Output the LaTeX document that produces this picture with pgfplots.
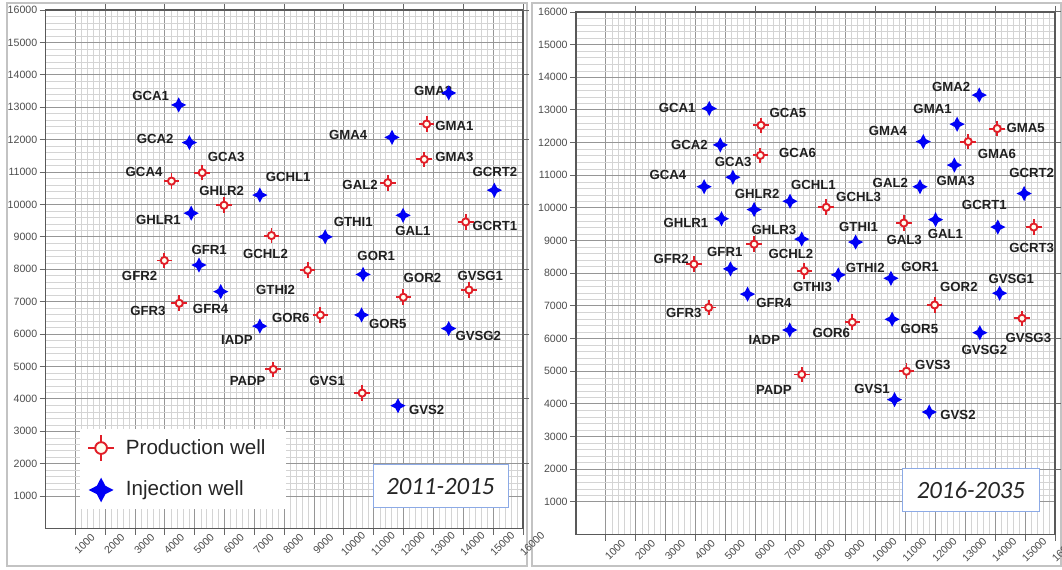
\documentclass[border=0pt]{standalone}
\usepackage{fontspec}
\setmainfont{Liberation Sans}
\newfontfamily\carlito{Carlito}
\usepackage{pgfplots}
\pgfplotsset{compat=1.18}

\definecolor{prodred}{RGB}{225,30,40}
\definecolor{injblue}{RGB}{0,0,245}
\definecolor{majgrid}{RGB}{150,150,150}
\definecolor{mingrid}{RGB}{212,212,212}
\definecolor{boxblue}{RGB}{140,170,230}
\definecolor{framegray}{RGB}{195,195,195}

\pgfdeclareplotmark{prodwell}{%
  \pgfpathcircle{\pgfpointorigin}{0.46\pgfplotmarksize}%
  \pgfusepathqfillstroke
  \pgfpathmoveto{\pgfqpoint{0pt}{0.46\pgfplotmarksize}}%
  \pgfpathlineto{\pgfqpoint{0pt}{\pgfplotmarksize}}%
  \pgfpathmoveto{\pgfqpoint{0pt}{-0.46\pgfplotmarksize}}%
  \pgfpathlineto{\pgfqpoint{0pt}{-\pgfplotmarksize}}%
  \pgfpathmoveto{\pgfqpoint{0.46\pgfplotmarksize}{0pt}}%
  \pgfpathlineto{\pgfqpoint{\pgfplotmarksize}{0pt}}%
  \pgfpathmoveto{\pgfqpoint{-0.46\pgfplotmarksize}{0pt}}%
  \pgfpathlineto{\pgfqpoint{-\pgfplotmarksize}{0pt}}%
  \pgfusepathqstroke
}
\pgfdeclareplotmark{injwell}{%
  \pgfpathmoveto{\pgfqpoint{0pt}{\pgfplotmarksize}}%
  \pgfpathlineto{\pgfqpoint{0.34\pgfplotmarksize}{0.34\pgfplotmarksize}}%
  \pgfpathlineto{\pgfqpoint{\pgfplotmarksize}{0pt}}%
  \pgfpathlineto{\pgfqpoint{0.34\pgfplotmarksize}{-0.34\pgfplotmarksize}}%
  \pgfpathlineto{\pgfqpoint{0pt}{-\pgfplotmarksize}}%
  \pgfpathlineto{\pgfqpoint{-0.34\pgfplotmarksize}{-0.34\pgfplotmarksize}}%
  \pgfpathlineto{\pgfqpoint{-\pgfplotmarksize}{0pt}}%
  \pgfpathlineto{\pgfqpoint{-0.34\pgfplotmarksize}{0.34\pgfplotmarksize}}%
  \pgfpathclose
  \pgfusepathqfill
}

\pgfplotstableread{
x y
5250 10980
4220 10720
5980 9975
7570 9040
3980 8270
8780 7970
12770 12480
12690 11390
11470 10670
14080 9460
14190 7360
11990 7135
4480 6950
9210 6586
7630 4910
10610 4180
}\prodA
\pgfplotstableread{
x y
4460 13070
4820 11910
7180 10290
4880 9730
9370 9000
5140 8130
10640 7840
13510 13440
11610 12070
15040 10440
11980 9665
5870 7310
7180 6245
10590 6590
13510 6170
11810 3790
}\injA
\pgfplotstableread{
x y
6180 12530
6160 11610
8360 10020
5950 8890
3940 8277
7630 8070
14070 12430
13100 12030
10950 9538
15290 9415
11980 7030
4430 6950
9230 6500
14900 6620
11040 5000
7540 4900
}\prodB
\pgfplotstableread{
x y
4450 13046
4820 11930
5240 10940
4280 10650
5950 9950
7150 10205
4860 9670
7540 9046
9340 8954
5160 8133
8760 7950
10520 7846
13470 13456
12730 12564
11600 12030
12640 11313
11490 10650
14970 10441
12010 9641
14090 9415
14150 7390
5730 7360
7140 6262
10560 6590
13490 6180
10640 4130
11800 3750
}\injB

\tikzset{
  wlab/.style={font=\fontsize{6.6}{7}\selectfont\bfseries, text=black!88, inner sep=0pt},
}
\pgfplotsset{
  panel/.style={
    scale only axis, anchor=south west,
    xmin=0, xmax=16000, ymin=0, ymax=16000,
    xtick={1000,2000,...,16000}, ytick={1000,2000,...,16000},
    minor tick num=4,
    grid=both,
    major grid style={majgrid, line width=0.5pt},
    minor grid style={mingrid, line width=0.25pt},
    axis line style={black!65, line width=0.7pt},
    tick align=outside, tick pos=left,
    major tick length=3pt, minor tick length=0pt,
    major tick style={black!60, line width=0.5pt},
    minor tick style={draw=none},
    scaled ticks=false,
    /pgf/number format/assume math mode=true,
    /pgf/number format/set thousands separator={},
    xticklabel style={rotate=45, anchor=center, yshift=-6.5pt, font=\fontsize{5.3}{6}\selectfont, text=black!70},
    yticklabel style={font=\fontsize{5.3}{6}\selectfont, text=black!70, inner sep=1pt},
    clip=false,
  },
  toptick/.style={
    scale only axis, anchor=south west,
    xmin=0, xmax=16000, ymin=0, ymax=16000,
    axis x line*=top, axis y line*=right,
    xtick={2000,4000,...,16000}, ytick={2000,4000,...,16000},
    xticklabels={}, yticklabels={},
    tick align=outside, major tick length=3pt,
    major tick style={black!60, line width=0.5pt},
    axis line style={draw=none},
  },
  prodstyle/.style={only marks, mark=prodwell, mark size=3.9pt, mark options={draw=prodred, fill=yellow!6, line width=0.95pt}},
  injstyle/.style={only marks, mark=injwell, mark size=3.8pt, mark options={fill=injblue, draw=none}},
  prodlegend/.style={legend image code/.code={\draw[prodred, fill=yellow!6, line width=1.1pt] plot[only marks, mark=prodwell, mark size=6.4pt] coordinates {(7pt,0pt)};}},
  injlegend/.style={legend image code/.code={\fill[injblue] plot[only marks, mark=injwell, mark size=6.2pt] coordinates {(7pt,0pt)};}},
}
\newcommand{\lab}[3]{\node[wlab] at (axis cs:#1,#2) {#3};}

\begin{document}
\begin{tikzpicture}
\useasboundingbox (0,0) rectangle (531pt,284.5pt);
\draw[framegray, line width=0.6pt] (3.5pt,1.5pt) rectangle (263.5pt,283pt);
\draw[framegray, line width=0.6pt] (266pt,1.5pt) rectangle (530.5pt,283pt);

% ---------------- left panel ----------------
\begin{axis}[panel, at={(22.8pt,20.25pt)}, width=238.7pt, height=259.25pt,
  legend style={at={(axis cs:1150,3080)}, anchor=north west, draw=none, fill=white,
    font=\fontsize{10.3}{12}\selectfont, text=black!85, row sep=8pt,
    inner xsep=4pt, inner ysep=3pt, nodes={inner xsep=6pt}},
  legend cell align=left]
\draw[boxblue, fill=white, line width=0.5pt] (axis cs:10980,1960) rectangle (axis cs:15510,633);
\node[text=black!85] at (axis cs:13230,1290) {\carlito\itshape\fontsize{12.4}{14}\selectfont 2011-2015};
\lab{3520}{13340}{GCA1}
\lab{3670}{12010}{GCA2}
\lab{6050}{11480}{GCA3}
\lab{3300}{11010}{GCA4}
\lab{5900}{10410}{GHLR2}
\lab{8130}{10855}{GCHL1}
\lab{3780}{9530}{GHLR1}
\lab{10310}{9450}{GTHI1}
\lab{12310}{9190}{GAL1}
\lab{15060}{9340}{GCRT1}
\lab{5480}{8600}{GFR1}
\lab{7370}{8460}{GCHL2}
\lab{11080}{8420}{GOR1}
\lab{3150}{7790}{GFR2}
\lab{12630}{7720}{GOR2}
\lab{14570}{7800}{GVSG1}
\lab{7710}{7360}{GTHI2}
\lab{12990}{13515}{GMA2}
\lab{13700}{12430}{GMA1}
\lab{10140}{12150}{GMA4}
\lab{13700}{11470}{GMA3}
\lab{10540}{10600}{GAL2}
\lab{15060}{11010}{GCRT2}
\lab{3430}{6710}{GFR3}
\lab{5530}{6790}{GFR4}
\lab{8220}{6500}{GOR6}
\lab{6410}{5810}{IADP}
\lab{11470}{6300}{GOR5}
\lab{14500}{5940}{GVSG2}
\lab{6770}{4550}{PADP}
\lab{9440}{4550}{GVS1}
\lab{12770}{3660}{GVS2}
\addplot[prodstyle, prodlegend] table[x=x,y=y] {\prodA};
\addlegendentry{Production well}
\addplot[injstyle, injlegend] table[x=x,y=y] {\injA};
\addlegendentry{Injection well}
\end{axis}
\begin{axis}[toptick, at={(22.8pt,20.25pt)}, width=238.7pt, height=259.25pt]
\end{axis}

% ---------------- right panel ----------------
\begin{axis}[panel, at={(288pt,17.25pt)}, width=239.5pt, height=261.25pt]
\draw[boxblue, fill=white, line width=0.5pt] (axis cs:10920,2036) rectangle (axis cs:15470,690);
\node[text=black!85] at (axis cs:13190,1350) {\carlito\itshape\fontsize{12.4}{14}\selectfont 2016-2035};
\lab{3380}{13060}{GCA1}
\lab{7080}{12920}{GCA5}
\lab{3790}{11920}{GCA2}
\lab{7400}{11690}{GCA6}
\lab{5250}{11400}{GCA3}
\lab{3070}{11000}{GCA4}
\lab{6050}{10440}{GHLR2}
\lab{7930}{10690}{GCHL1}
\lab{9440}{10330}{GCHL3}
\lab{3670}{9540}{GHLR1}
\lab{9440}{9415}{GTHI1}
\lab{6610}{9330}{GHLR3}
\lab{10960}{9005}{GAL3}
\lab{12340}{9200}{GAL1}
\lab{13640}{10080}{GCRT1}
\lab{15220}{8770}{GCRT3}
\lab{4970}{8650}{GFR1}
\lab{7180}{8585}{GCHL2}
\lab{3180}{8440}{GFR2}
\lab{9660}{8150}{GTHI2}
\lab{11490}{8205}{GOR1}
\lab{7900}{7595}{GTHI3}
\lab{12790}{7595}{GOR2}
\lab{14540}{7826}{GVSG1}
\lab{12530}{13710}{GMA2}
\lab{11910}{13030}{GMA1}
\lab{15020}{12460}{GMA5}
\lab{10420}{12360}{GMA4}
\lab{14060}{11640}{GMA6}
\lab{12680}{10820}{GMA3}
\lab{10500}{10770}{GAL2}
\lab{15220}{11080}{GCRT2}
\lab{6610}{7080}{GFR4}
\lab{3600}{6770}{GFR3}
\lab{6290}{5950}{IADP}
\lab{8530}{6160}{GOR6}
\lab{11470}{6290}{GOR5}
\lab{13640}{5650}{GVSG2}
\lab{15110}{6005}{GVSG3}
\lab{11920}{5205}{GVS3}
\lab{6610}{4415}{PADP}
\lab{9890}{4446}{GVS1}
\lab{12760}{3650}{GVS2}
\addplot[prodstyle] table[x=x,y=y] {\prodB};
\addplot[injstyle] table[x=x,y=y] {\injB};
\end{axis}
\begin{axis}[toptick, at={(288pt,17.25pt)}, width=239.5pt, height=261.25pt]
\end{axis}
\end{tikzpicture}
\end{document}
